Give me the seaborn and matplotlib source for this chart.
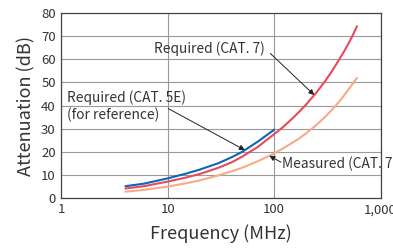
import matplotlib
matplotlib.use('Agg')
import matplotlib.pyplot as plt
import numpy as np
import pandas as pd
import seaborn as sns

# Attenuation vs frequency
freq_5e = [4, 6, 10, 15, 20, 30, 40, 50, 70, 100]
att_5e = [5.0, 6.1, 8.4, 10.5, 12.2, 15.0, 17.6, 19.9, 24.3, 29.5]

freq_7 = [4, 6, 10, 15, 20, 30, 40, 50, 70, 100, 120, 150, 170, 200, 250,
          300, 350, 400, 450, 500, 550, 600]
att_7_req = [4.0, 5.0, 7.0, 8.8, 10.3, 13.0, 15.4, 17.8, 22.0, 27.6, 30.5,
             34.6, 37.1, 40.5, 45.7, 50.5, 55.0, 59.3, 63.2, 67.0, 70.7, 74.4]
att_7_meas = [2.6, 3.4, 4.8, 6.3, 7.5, 9.7, 11.5, 13.0, 15.8, 19.2, 21.3,
              24.0, 25.6, 28.0, 31.6, 35.0, 38.2, 41.2, 44.2, 47.0, 49.6, 52.0]

x_ticks = [1, 10, 100, 1000]
x_ticklabels = ['1', '10', '100', '1,000']
y_ticks = list(range(0, 81, 10))

c_5e = '#0a67b8'
c_7 = '#e8495e'
c_meas = '#f5ab86'
txt = '#333333'

sns.set_style('white')
plt.rcParams['font.family'] = ['Noto Sans CJK JP', 'DejaVu Sans']

fig, ax = plt.subplots(figsize=(3.93, 2.52), dpi=100)
fig.subplots_adjust(left=0.156, right=0.9685, top=0.947, bottom=0.2155)

df = pd.concat([
    pd.DataFrame({'f': freq_5e, 'a': att_5e, 's': '5e'}),
    pd.DataFrame({'f': freq_7, 'a': att_7_req, 's': '7'}),
    pd.DataFrame({'f': freq_7, 'a': att_7_meas, 's': 'm'}),
])
sns.lineplot(data=df, x='f', y='a', hue='s', hue_order=['m', '7', '5e'],
             palette={'5e': c_5e, '7': c_7, 'm': c_meas}, linewidth=1.5,
             legend=False, ax=ax)

ax.set_xscale('log')
ax.set_xlim(1, 1000)
ax.set_ylim(0, 80)
ax.set_xticks(x_ticks)
ax.set_xticklabels(x_ticklabels)
ax.set_yticks(y_ticks)
ax.minorticks_off()
ax.tick_params(length=0, labelsize=9.5, colors=txt, pad=4)
ax.grid(True, color='#999999', linewidth=0.8)
for sp in ax.spines.values():
    sp.set_color('#444444')
    sp.set_linewidth(0.9)

ax.set_xlabel('Frequency (MHz)', fontsize=13, color=txt, labelpad=6)
ax.set_ylabel('Attenuation (dB)', fontsize=13, color=txt, labelpad=4)


def on_curve(f, fs, vals):
    return f, np.interp(np.log10(f), np.log10(fs), vals)


arrow = dict(arrowstyle='-|>', color='#222222', lw=0.7, mutation_scale=8,
             shrinkA=0, shrinkB=0)

# labels with arrows
ax.text(7.4, 64.5, 'Required (CAT. 7)', fontsize=9.9, color=txt, va='center')
ax.annotate('', xy=on_curve(238, freq_7, att_7_req), xytext=(92, 62.6),
            arrowprops=arrow)

ax.text(1.13, 39.6, 'Required (CAT. 5E)\n(for reference)', fontsize=9.9,
        color=txt, va='center', linespacing=1.2)
ax.annotate('', xy=on_curve(53, freq_5e, att_5e), xytext=(10.1, 38.7),
            arrowprops=arrow)

ax.text(119, 14.6, 'Measured (CAT. 7)', fontsize=9.9, color=txt, va='center',
        clip_on=False)
ax.annotate('', xy=on_curve(90, freq_7, att_7_meas), xytext=(116, 15.4),
            arrowprops=arrow)

fig.savefig('out.png', dpi=100)
